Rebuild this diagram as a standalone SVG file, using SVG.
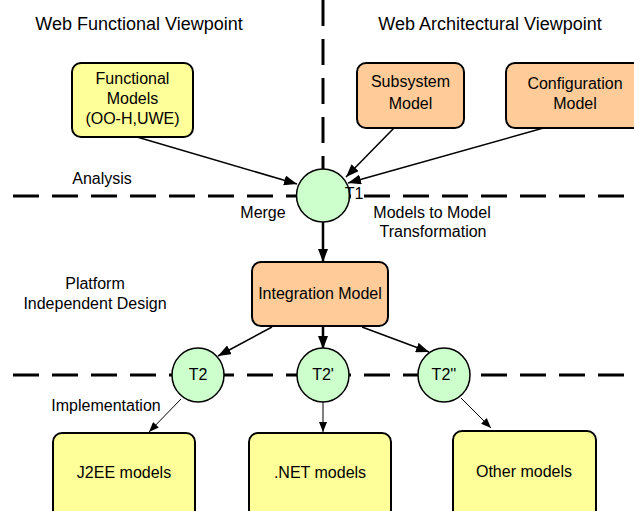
<svg xmlns="http://www.w3.org/2000/svg" width="634" height="511" viewBox="0 0 634 511">
<style>
text{font-family:"Liberation Sans",Arial,sans-serif;font-size:16px;fill:#000;text-anchor:middle}
.h{font-size:18px}
.y{fill:#FFFF99;stroke:#000;stroke-width:2}
.o{fill:#FFCC99;stroke:#000;stroke-width:2}
.g{fill:#CCFFCC;stroke:#000;stroke-width:1.5}
.dash{stroke:#000;stroke-width:3;stroke-dasharray:26 13;fill:none}
.a{stroke:#000;stroke-width:1.5;fill:none;marker-end:url(#ah)}
.ak{stroke:#000;stroke-width:2.5;fill:none;marker-end:url(#ah)}
.as{stroke:#000;stroke-width:1;fill:none;marker-end:url(#as)}
</style>
<defs>
<marker id="ah" viewBox="0 0 13 10" refX="13" refY="5" markerWidth="13" markerHeight="10" markerUnits="userSpaceOnUse" orient="auto"><path d="M0,0 L13,5 L0,10 z" fill="#000"/></marker>
<marker id="as" viewBox="0 0 10 8" refX="10" refY="4" markerWidth="10" markerHeight="8" markerUnits="userSpaceOnUse" orient="auto"><path d="M0,0 L10,4 L0,8 z" fill="#000"/></marker>
</defs>
<rect width="634" height="511" fill="#fff"/>
<g id="separators">
<line class="dash" x1="323" y1="0" x2="323" y2="169"/>
<line class="dash" x1="13" y1="196" x2="640" y2="196"/>
<line class="dash" x1="13" y1="375" x2="640" y2="375"/>
</g>
<g id="labels">
<text class="h" x="139" y="29.5">Web Functional Viewpoint</text>
<text class="h" x="490" y="29.5">Web Architectural Viewpoint</text>
<text x="102" y="184">Analysis</text>
<text x="263" y="218">Merge</text>
<text x="432" y="218">Models to Model</text>
<text x="433" y="237">Transformation</text>
<text x="95" y="289">Platform</text>
<text x="95" y="309">Independent Design</text>
<text x="106" y="411">Implementation</text>
</g>
<g id="connectors">
<path class="a" d="M137,137 L297,184"/>
<path class="a" d="M395,127 L346,177"/>
<path class="a" d="M547,127 L348,183"/>
<path class="ak" d="M323,222 L323,262"/>
<path class="a" d="M272,327 L218,356"/>
<path class="ak" d="M323,327 L323,349"/>
<path class="a" d="M362,327 L429,352"/>
<path class="as" d="M181,399 L149,432"/>
<path class="as" d="M323,402 L323,432"/>
<path class="as" d="M461,398 L491,428"/>
</g>
<g id="functional-models">
<rect class="y" x="72" y="63" width="121" height="74" rx="9"/>
<text x="132.5" y="84">Functional</text>
<text x="132.5" y="104">Models</text>
<text x="132.5" y="124">(OO-H,UWE)</text>
</g>
<g id="subsystem-model">
<rect class="o" x="357" y="63" width="107" height="65" rx="9"/>
<text x="410.5" y="87">Subsystem</text>
<text x="410.5" y="109">Model</text>
</g>
<g id="configuration-model">
<rect class="o" x="506" y="63" width="140" height="65" rx="9"/>
<text x="575" y="89">Configuration</text>
<text x="575" y="109">Model</text>
</g>
<g id="t1">
<circle class="g" cx="323" cy="195.5" r="26.5"/>
<text x="354" y="199">T1</text>
</g>
<g id="integration-model">
<rect class="o" x="252" y="262" width="136" height="64" rx="9"/>
<text x="320" y="298.5">Integration Model</text>
</g>
<g id="t2">
<ellipse class="g" cx="198" cy="375" rx="26" ry="27"/>
<text x="198" y="380">T2</text>
</g>
<g id="t2p">
<ellipse class="g" cx="323" cy="375" rx="26" ry="27"/>
<text x="323" y="380">T2'</text>
</g>
<g id="t2pp">
<ellipse class="g" cx="444" cy="375" rx="26" ry="27"/>
<text x="444" y="380">T2''</text>
</g>
<g id="j2ee-models">
<rect class="y" x="53" y="433" width="142" height="90" rx="9"/>
<text x="124" y="478">J2EE models</text>
</g>
<g id="net-models">
<rect class="y" x="249" y="433" width="142" height="90" rx="9"/>
<text x="320" y="478">.NET models</text>
</g>
<g id="other-models">
<rect class="y" x="453" y="431" width="143" height="92" rx="9"/>
<text x="524" y="477">Other models</text>
</g>
</svg>
